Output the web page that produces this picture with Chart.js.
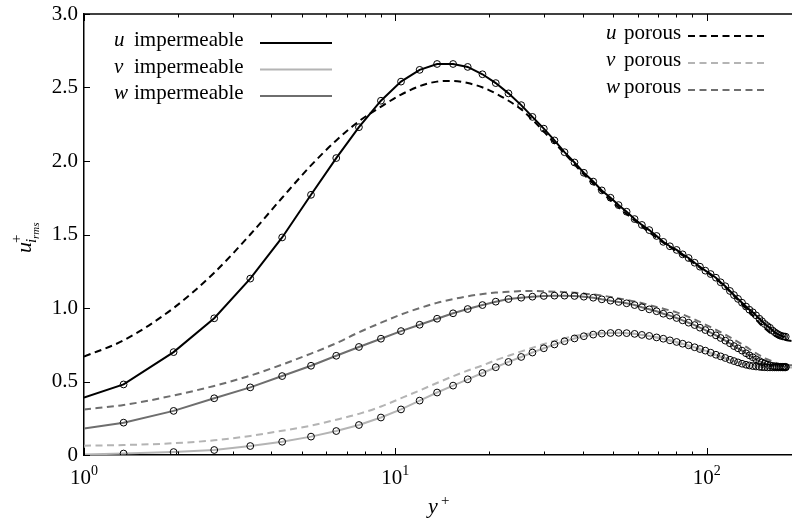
<!DOCTYPE html>
<html>
<head>
<meta charset="utf-8">
<script src="https://cdn.jsdelivr.net/npm/chart.js@4.4.1/dist/chart.umd.min.js"></script>
<style>
  html, body { margin: 0; padding: 0; background: #fff; }
</style>
</head>
<body>
<canvas id="rms" width="792" height="521"></canvas>
<script>
// y+ of the DNS points (impermeable wall, circles)
const yImp = [1, 1.34, 1.94, 2.62, 3.42, 4.33, 5.36, 6.46, 7.64,
  8.99, 10.43, 11.97, 13.62, 15.33, 17.08, 19.05, 21.02, 23.09, 25.37,
  27.57, 29.99, 32.45, 34.95, 37.63, 40.32, 43.22, 46.05, 49.12, 52.12,
  55.33, 58.69, 61.94, 65.42, 69.06, 72.57, 76.21, 80.08, 83.72, 87.52,
  91.5, 95.17, 99.04, 103.0, 107.1, 110.9, 114.8, 118.8, 122.4, 126.1,
  129.9, 133.8, 137.2, 140.6, 144.1, 147.7, 150.6, 153.7, 156.8, 159.8,
  163.0, 165.5, 168.0, 170.5, 173.0, 175.6, 177.3, 179.5];

const uImp = [0.39, 0.48, 0.70, 0.93, 1.20, 1.48, 1.77, 2.02, 2.23,
  2.41, 2.54, 2.62, 2.66, 2.66, 2.64, 2.59, 2.53, 2.46, 2.38,
  2.30, 2.22, 2.14, 2.06, 1.99, 1.92, 1.86, 1.80, 1.75, 1.70,
  1.655, 1.605, 1.565, 1.53, 1.49, 1.45, 1.42, 1.395, 1.365, 1.34,
  1.308, 1.281, 1.254, 1.231, 1.206, 1.175, 1.148, 1.116, 1.088, 1.062,
  1.036, 1.01, 0.988, 0.971, 0.95, 0.927, 0.91, 0.891, 0.877, 0.865,
  0.846, 0.835, 0.826, 0.818, 0.812, 0.807, 0.806, 0.805];

const vImp = [0.003, 0.01, 0.02, 0.034, 0.061, 0.09, 0.125, 0.163, 0.204,
  0.255, 0.31, 0.37, 0.425, 0.472, 0.515, 0.558, 0.597, 0.633, 0.667,
  0.697, 0.726, 0.752, 0.774, 0.793, 0.808, 0.819, 0.826, 0.83, 0.831,
  0.829, 0.824, 0.817, 0.81, 0.80, 0.791, 0.78, 0.769, 0.757, 0.746,
  0.733, 0.721, 0.71, 0.696, 0.682, 0.671, 0.66, 0.648, 0.639, 0.63,
  0.621, 0.614, 0.609, 0.605, 0.602, 0.60, 0.598, 0.597, 0.596, 0.596,
  0.596, 0.596, 0.596, 0.596, 0.596, 0.596, 0.596, 0.596];

const wImp = [0.18, 0.22, 0.30, 0.386, 0.46, 0.537, 0.607, 0.675, 0.735,
  0.791, 0.843, 0.886, 0.927, 0.964, 0.993, 1.02, 1.043, 1.061, 1.07,
  1.077, 1.082, 1.084, 1.084, 1.082, 1.077, 1.07, 1.059, 1.05, 1.041,
  1.032, 1.02, 1.005, 0.991, 0.978, 0.961, 0.948, 0.932, 0.916, 0.90,
  0.884, 0.866, 0.85, 0.832, 0.814, 0.796, 0.778, 0.76, 0.741, 0.726,
  0.71, 0.692, 0.678, 0.665, 0.651, 0.639, 0.63, 0.622, 0.615, 0.61,
  0.606, 0.603, 0.601, 0.60, 0.60, 0.60, 0.60, 0.60];

// porous wall (dashed)
const yPor = [1, 1.34, 1.94, 2.62, 3.42, 4.33, 5.36, 6.46, 7.64,
  9.0, 10.4, 12.0, 13.6, 15.3, 17.1, 19.1, 21.0, 23.1, 25.4, 27.6,
  30.0, 35.0, 40.3, 46.0, 52.1, 58.7, 65.4, 72.6, 80.1, 87.5,
  95.2, 103, 111, 119, 126, 134, 141, 148, 154, 160,
  166, 171, 176, 181, 188];

const uPor = [0.67, 0.78, 1.00, 1.24, 1.50, 1.75, 1.97, 2.14, 2.27,
  2.37, 2.45, 2.51, 2.54, 2.545, 2.53, 2.50, 2.46, 2.41, 2.35, 2.28,
  2.20, 2.05, 1.91, 1.79, 1.685, 1.595, 1.515, 1.445, 1.385, 1.33,
  1.275, 1.225, 1.17, 1.11, 1.055, 0.995, 0.945, 0.895, 0.86, 0.83,
  0.81, 0.795, 0.787, 0.78, 0.775];

const vPor = [0.063, 0.068, 0.08, 0.10, 0.13, 0.165, 0.20, 0.24, 0.28,
  0.33, 0.385, 0.44, 0.49, 0.535, 0.575, 0.61, 0.645, 0.675, 0.705, 0.73,
  0.755, 0.795, 0.82, 0.83, 0.832, 0.825, 0.81, 0.79, 0.765, 0.74,
  0.715, 0.69, 0.665, 0.645, 0.63, 0.618, 0.61, 0.603, 0.60, 0.597,
  0.596, 0.595, 0.595, 0.595, 0.595];

const wPor = [0.31, 0.34, 0.405, 0.47, 0.54, 0.615, 0.69, 0.76, 0.835,
  0.90, 0.955, 1.00, 1.035, 1.06, 1.08, 1.095, 1.105, 1.11, 1.115, 1.116,
  1.114, 1.108, 1.098, 1.085, 1.065, 1.045, 1.02, 0.995, 0.97, 0.94,
  0.905, 0.87, 0.835, 0.80, 0.77, 0.735, 0.705, 0.678, 0.658, 0.643,
  0.628, 0.62, 0.615, 0.612, 0.61];

const yTicks = [0, 0.5, 1.0, 1.5, 2.0, 2.5, 3.0];
const xDecades = [1, 10, 100];
const xMinor = [2, 3, 4, 5, 6, 7, 8, 9, 20, 30, 40, 50, 60, 70, 80, 90];

const SERIF = '"Liberation Serif", "DejaVu Serif", serif';
const BLACK = '#000000';
const LIGHT = '#b4b4b4';
const DARK = '#6e6e6e';

function pts(xs, ys) {
  return xs.map((x, i) => ({ x: x, y: ys[i] }));
}

function impSet(label, ys, color) {
  return {
    label: label,
    data: pts(yImp, ys),
    showLine: true,
    borderColor: color,
    borderWidth: 2,
    tension: 0,
    pointStyle: 'circle',
    pointRadius: c => c.dataIndex === 0 ? 0 : 3.4,
    pointBorderColor: '#000',
    pointBorderWidth: 1,
    pointBackgroundColor: 'rgba(0,0,0,0)'
  };
}

function porSet(label, ys, color) {
  return {
    label: label,
    data: pts(yPor, ys),
    showLine: true,
    borderColor: color,
    borderWidth: 2,
    borderDash: [7, 4.5],
    cubicInterpolationMode: 'monotone',
    pointRadius: 0
  };
}

const legendLeft = [
  { sym: 'u', text: 'impermeable', color: BLACK },
  { sym: 'v', text: 'impermeable', color: LIGHT },
  { sym: 'w', text: 'impermeable', color: DARK }
];
const legendRight = [
  { sym: 'u', text: 'porous', color: BLACK },
  { sym: 'v', text: 'porous', color: LIGHT },
  { sym: 'w', text: 'porous', color: DARK }
];

// axis frame, inward ticks, log labels, titles and the two legend blocks
const decorations = {
  id: 'decorations',
  afterDraw(chart) {
    const ctx = chart.ctx;
    const a = chart.chartArea;
    const xs = chart.scales.x;
    const ys = chart.scales.y;
    ctx.save();
    ctx.strokeStyle = '#000';
    ctx.lineWidth = 1.5;
    ctx.beginPath();
    ctx.moveTo(a.left, a.top);
    ctx.lineTo(a.right, a.top);
    ctx.stroke();

    ctx.lineWidth = 1;
    const tick = (v, len) => {
      const px = Math.round(xs.getPixelForValue(v)) + 0.5;
      ctx.beginPath();
      ctx.moveTo(px, a.bottom);
      ctx.lineTo(px, a.bottom - len);
      ctx.moveTo(px, a.top);
      ctx.lineTo(px, a.top + len);
      ctx.stroke();
    };
    xDecades.forEach(v => tick(v, 7));
    xMinor.forEach(v => tick(v, 3.5));
    yTicks.forEach(v => {
      const py = Math.round(ys.getPixelForValue(v)) + 0.5;
      ctx.beginPath();
      ctx.moveTo(a.left, py);
      ctx.lineTo(a.left + 6, py);
      ctx.stroke();
    });

    // x tick labels 10^n
    ctx.fillStyle = '#000';
    ctx.textBaseline = 'alphabetic';
    ctx.textAlign = 'left';
    xDecades.forEach((v, i) => {
      const px = xs.getPixelForValue(v);
      ctx.font = '21px ' + SERIF;
      const wb = ctx.measureText('10').width;
      ctx.font = '14px ' + SERIF;
      const we = ctx.measureText(String(i)).width;
      const x0 = px - (wb + we) / 2;
      ctx.font = '21px ' + SERIF;
      ctx.fillText('10', x0, 484);
      ctx.font = '14px ' + SERIF;
      ctx.fillText(String(i), x0 + wb, 475);
    });

    // x title y+
    ctx.font = 'italic 22px ' + SERIF;
    ctx.fillText('y', 428, 513);
    ctx.font = '15px ' + SERIF;
    ctx.fillText('+', 441, 505);

    // y title u+_{i_rms}
    ctx.save();
    ctx.translate(31, 240);
    ctx.rotate(-Math.PI / 2);
    ctx.font = 'italic 22px ' + SERIF;
    ctx.fillText('u', -13, 0);
    ctx.font = '15px ' + SERIF;
    ctx.fillText('+', -3, -10);
    ctx.font = 'italic 15px ' + SERIF;
    ctx.fillText('i', -3, 5);
    ctx.font = 'italic 11px ' + SERIF;
    ctx.fillText('rms', 1, 8);
    ctx.restore();

    // legends
    const drawEntry = (e, symX, textX, lineX0, lineX1, lineY, dashed) => {
      ctx.fillStyle = '#000';
      ctx.font = 'italic 21px ' + SERIF;
      ctx.fillText(e.sym, symX, lineY + 3);
      ctx.font = '21px ' + SERIF;
      ctx.fillText(e.text, textX, lineY + 3);
      ctx.strokeStyle = e.color;
      ctx.lineWidth = 2;
      ctx.setLineDash(dashed ? [7, 4.5] : []);
      ctx.beginPath();
      ctx.moveTo(lineX0, lineY);
      ctx.lineTo(lineX1, lineY);
      ctx.stroke();
      ctx.setLineDash([]);
    };
    const rowsL = [43, 69.5, 96];
    legendLeft.forEach((e, i) => drawEntry(e, 114, 134, 260, 332, rowsL[i], false));
    const rowsR = [36, 63, 90];
    legendRight.forEach((e, i) => drawEntry(e, 606, 624, 688, 768, rowsR[i], true));
    ctx.restore();
  }
};

new Chart(document.getElementById('rms'), {
  type: 'scatter',
  data: {
    datasets: [
      impSet('u impermeable', uImp, BLACK),
      impSet('v impermeable', vImp, LIGHT),
      impSet('w impermeable', wImp, DARK),
      porSet('u porous', uPor, BLACK),
      porSet('v porous', vPor, LIGHT),
      porSet('w porous', wPor, DARK)
    ]
  },
  options: {
    responsive: false,
    animation: false,
    devicePixelRatio: 1,
    events: [],
    layout: { autoPadding: false, padding: { top: 14, right: 0, left: 0, bottom: 0 } },
    plugins: { legend: { display: false }, tooltip: { enabled: false } },
    scales: {
      x: {
        type: 'logarithmic',
        min: 1,
        max: 188,
        grid: { display: false, drawTicks: false },
        border: { display: true, color: '#000', width: 1.5 },
        ticks: { display: false },
        afterFit: s => { s.height = 66; s.paddingLeft = 0; s.paddingRight = 0; }
      },
      y: {
        min: 0,
        max: 3,
        grid: { display: false, drawTicks: false },
        border: { display: true, color: '#000', width: 1.5 },
        ticks: {
          stepSize: 0.5,
          padding: 6,
          color: '#000',
          font: { family: SERIF, size: 21 },
          callback: v => v === 0 ? '0' : v.toFixed(1)
        },
        afterFit: s => { s.width = 84; s.paddingTop = 0; s.paddingBottom = 0; }
      }
    }
  },
  plugins: [decorations]
});
</script>
</body>
</html>
